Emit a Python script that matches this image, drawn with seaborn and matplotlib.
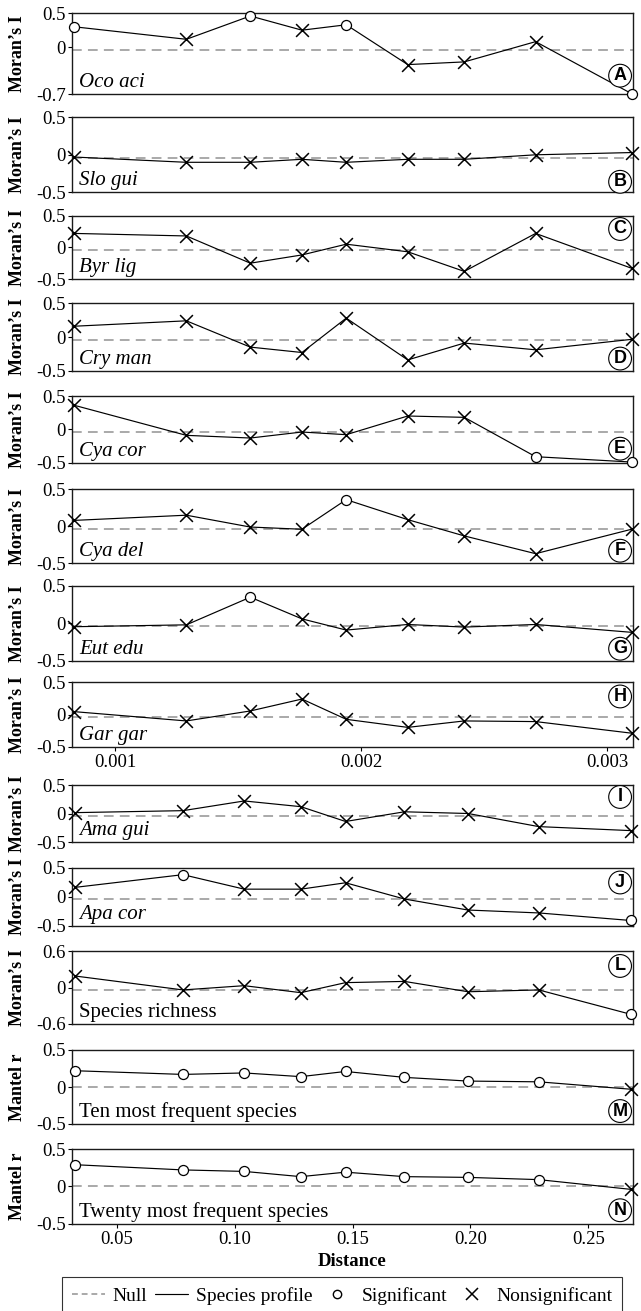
import numpy as np
import pandas as pd
import matplotlib
matplotlib.use("Agg")
import matplotlib.pyplot as plt
from matplotlib.lines import Line2D
import seaborn as sns

# ---------------- data ----------------
dist_deg = [0.000835, 0.00129, 0.00155, 0.00176, 0.00194, 0.00219, 0.00242, 0.00271, 0.00310]
dist_km = [0.032, 0.078, 0.104, 0.128, 0.147, 0.172, 0.199, 0.229, 0.268]

oco_aci = [0.30, 0.115, 0.46, 0.25, 0.33, -0.26, -0.22, 0.08, -0.69]
oco_aci_sig = "SNSNSNNNS"
slo_gui = [-0.03, -0.10, -0.10, -0.06, -0.10, -0.06, -0.06, 0.0, 0.03]
slo_gui_sig = "NNNNNNNNN"
byr_lig = [0.22, 0.18, -0.25, -0.12, 0.05, -0.07, -0.38, 0.22, -0.33]
byr_lig_sig = "NNNNNNNNN"
cry_man = [0.16, 0.24, -0.15, -0.23, 0.28, -0.34, -0.09, -0.19, -0.035]
cry_man_sig = "NNNNNNNNN"
cya_cor = [0.36, -0.09, -0.13, -0.04, -0.08, 0.20, 0.18, -0.41, -0.49]
cya_cor_sig = "NNNNNNNSS"
cya_del = [0.08, 0.15, -0.01, -0.04, 0.36, 0.09, -0.13, -0.37, -0.04]
cya_del_sig = "NNNNSNNNN"
eut_edu = [-0.045, -0.02, 0.35, 0.06, -0.09, -0.015, -0.05, -0.015, -0.12]
eut_edu_sig = "NNSNNNNNN"
gar_gar = [0.044, -0.10, 0.055, 0.24, -0.075, -0.20, -0.10, -0.11, -0.29]
gar_gar_sig = "NNNNNNNNN"
ama_gui = [0.015, 0.05, 0.22, 0.12, -0.14, 0.03, 0.0, -0.23, -0.30]
ama_gui_sig = "NNNNNNNNN"
apa_cor = [0.16, 0.38, 0.13, 0.13, 0.24, -0.04, -0.23, -0.28, -0.41]
apa_cor_sig = "NSNNNNNNS"
richness = [0.19, -0.04, 0.03, -0.085, 0.08, 0.10, -0.07, -0.04, -0.44]
richness_sig = "NNNNNNNNS"
mantel_ten = [0.22, 0.17, 0.19, 0.14, 0.21, 0.13, 0.08, 0.07, -0.03]
mantel_ten_sig = "SSSSSSSSN"
mantel_twenty = [0.29, 0.22, 0.20, 0.13, 0.19, 0.13, 0.12, 0.09, -0.04]
mantel_twenty_sig = "SSSSSSSSN"

moran_null = -0.04
mantel_null = 0.0

top_ticks = [0.001, 0.002, 0.003]
top_ticklabels = ["0.001", "0.002", "0.003"]
bottom_ticks = [0.05, 0.10, 0.15, 0.20, 0.25]
bottom_ticklabels = ["0.05", "0.10", "0.15", "0.20", "0.25"]

# (name, letter, values, sig, ylim, yticks, ytick labels, ylabel, null, italic, group)
panels = [
    ("Oco aci", "A", oco_aci, oco_aci_sig, (-0.7, 0.5), [-0.7, 0, 0.5], ["-0.7", "0", "0.5"], "Moran\u2019s I", moran_null, True, "deg"),
    ("Slo gui", "B", slo_gui, slo_gui_sig, (-0.5, 0.5), [-0.5, 0, 0.5], ["-0.5", "0", "0.5"], "Moran\u2019s I", moran_null, True, "deg"),
    ("Byr lig", "C", byr_lig, byr_lig_sig, (-0.5, 0.5), [-0.5, 0, 0.5], ["-0.5", "0", "0.5"], "Moran\u2019s I", moran_null, True, "deg"),
    ("Cry man", "D", cry_man, cry_man_sig, (-0.5, 0.5), [-0.5, 0, 0.5], ["-0.5", "0", "0.5"], "Moran\u2019s I", moran_null, True, "deg"),
    ("Cya cor", "E", cya_cor, cya_cor_sig, (-0.5, 0.5), [-0.5, 0, 0.5], ["-0.5", "0", "0.5"], "Moran\u2019s I", moran_null, True, "deg"),
    ("Cya del", "F", cya_del, cya_del_sig, (-0.5, 0.5), [-0.5, 0, 0.5], ["-0.5", "0", "0.5"], "Moran\u2019s I", moran_null, True, "deg"),
    ("Eut edu", "G", eut_edu, eut_edu_sig, (-0.5, 0.5), [-0.5, 0, 0.5], ["-0.5", "0", "0.5"], "Moran\u2019s I", moran_null, True, "deg"),
    ("Gar gar", "H", gar_gar, gar_gar_sig, (-0.5, 0.5), [-0.5, 0, 0.5], ["-0.5", "0", "0.5"], "Moran\u2019s I", moran_null, True, "deg"),
    ("Ama gui", "I", ama_gui, ama_gui_sig, (-0.5, 0.5), [-0.5, 0, 0.5], ["-0.5", "0", "0.5"], "Moran\u2019s I", moran_null, True, "km"),
    ("Apa cor", "J", apa_cor, apa_cor_sig, (-0.5, 0.5), [-0.5, 0, 0.5], ["-0.5", "0", "0.5"], "Moran\u2019s I", moran_null, True, "km"),
    ("Species richness", "L", richness, richness_sig, (-0.6, 0.6), [-0.6, 0, 0.6], ["-0.6", "0", "0.6"], "Moran\u2019s I", moran_null, False, "km"),
    ("Ten most frequent species", "M", mantel_ten, mantel_ten_sig, (-0.5, 0.5), [-0.5, 0, 0.5], ["-0.5", "0", "0.5"], "Mantel r", mantel_null, False, "km"),
    ("Twenty most frequent species", "N", mantel_twenty, mantel_twenty_sig, (-0.5, 0.5), [-0.5, 0, 0.5], ["-0.5", "0", "0.5"], "Mantel r", mantel_null, False, "km"),
]

# ---------------- layout (pixels) ----------------
W, H = 641, 1311
left_px, right_px = 72, 633
bounds = [(13.3, 94.3), (117.3, 192.3), (215.7, 279.0), (303.3, 370.7), (396.0, 462.7),
          (489.3, 563.3), (586.0, 660.7), (682.3, 746.7), (785.0, 842.0), (867.7, 925.7),
          (951.0, 1024.0), (1050.0, 1124.0), (1149.0, 1223.7)]
letter_y = [0.23, 0.14, 0.79, 0.18, 0.21, 0.17, 0.16, 0.78, 0.79, 0.745, 0.795, 0.175, 0.18]
xlim_deg = (0.000825, 0.003106)
xlim_km = (0.0309, 0.2690)

sns.set_theme(style="white")
plt.rcParams["font.family"] = ["Liberation Serif", "DejaVu Serif"]
plt.rcParams["axes.unicode_minus"] = False
plt.rcParams["text.color"] = "black"
plt.rcParams["axes.labelcolor"] = "black"
plt.rcParams["xtick.color"] = "black"
plt.rcParams["ytick.color"] = "black"

fig = plt.figure(figsize=(W / 100, H / 100), dpi=100)
fig.patch.set_facecolor("white")

null_color = "#a9a9a9"
tick_fs = 13.5

for i, (name, letter, vals, sig, ylim, yt, ytl, ylab, null, italic, grp) in enumerate(panels):
    top, bot = bounds[i]
    rect = [left_px / W, 1 - bot / H, (right_px - left_px) / W, (bot - top) / H]
    ax = fig.add_axes(rect)
    x = dist_deg if grp == "deg" else dist_km
    df = pd.DataFrame({"dist": x, "val": vals, "sig": list(sig)})

    ax.axhline(null, color=null_color, lw=1.4, ls=(0, (5, 3.2)), zorder=1)
    sns.lineplot(data=df, x="dist", y="val", color="black", lw=0.85, ax=ax,
                 sort=False, estimator=None, zorder=2)
    s_df = df[df["sig"] == "S"]
    n_df = df[df["sig"] == "N"]
    if len(s_df):
        sns.scatterplot(data=s_df, x="dist", y="val", marker="o", s=52, facecolor="white",
                        edgecolor="black", linewidth=0.9, ax=ax, zorder=4, clip_on=False)
    if len(n_df):
        sns.scatterplot(data=n_df, x="dist", y="val", marker="x", s=85, color="black",
                        linewidth=1.1, ax=ax, zorder=4, clip_on=False)

    ax.set_xlim(xlim_deg if grp == "deg" else xlim_km)
    ax.set_ylim(*ylim)
    ax.set_yticks(yt)
    ax.set_yticklabels(ytl, fontsize=tick_fs)
    ax.set_xlabel("")
    ax.set_ylabel("")
    for sp in ax.spines.values():
        sp.set_visible(True)
        sp.set_color("#1a1a1a")
        sp.set_linewidth(1.0)
    ax.tick_params(axis="y", left=True, length=3, width=0.8, pad=1.5, colors="black")
    if letter == "H":
        ax.set_xticks(top_ticks)
        ax.set_xticklabels(top_ticklabels, fontsize=tick_fs)
        ax.tick_params(axis="x", bottom=True, length=3, width=0.8, pad=2)
    elif letter == "N":
        ax.set_xticks(bottom_ticks)
        ax.set_xticklabels(bottom_ticklabels, fontsize=tick_fs)
        ax.tick_params(axis="x", bottom=True, length=3, width=0.8, pad=2)
        ax.set_xlabel("Distance", fontsize=13.5, fontweight="bold", labelpad=4, color="black")
    else:
        ax.set_xticks([])

    ax.annotate(name, xy=(0, 0), xycoords="axes fraction", xytext=(5, 5),
                textcoords="offset points", ha="left", va="baseline", fontsize=15,
                style="italic" if italic else "normal", zorder=5)
    ax.text(0.977, letter_y[i], letter, transform=ax.transAxes, ha="center", va="center",
            fontsize=13, fontweight="bold", family="Liberation Sans", zorder=6,
            bbox=dict(boxstyle="circle,pad=0.16", fc="white", ec="black", lw=0.8))

    fig.text(17 / W, 1 - (top + bot) / 2 / H, ylab, rotation=90, ha="center", va="center",
             fontsize=13, fontweight="bold")

handles = [
    Line2D([], [], color=null_color, lw=1.4, ls=(0, (3, 2))),
    Line2D([], [], color="black", lw=0.85),
    Line2D([], [], color="black", marker="o", mfc="white", mec="black", ms=6, ls="none"),
    Line2D([], [], color="black", marker="x", ms=8, mew=1.1, ls="none"),
]
labels = ["Null", "Species profile", "Significant", "Nonsignificant"]
leg = fig.legend(handles, labels, loc="upper left", ncol=4, mode="expand",
                 bbox_to_anchor=(62 / W, 1 - 1277 / H, 560 / W, 0.0), fontsize=14,
                 frameon=True, fancybox=False, edgecolor="black", handlelength=1.7,
                 handletextpad=0.4, columnspacing=0.4, borderpad=0.5, borderaxespad=0)
leg.get_frame().set_linewidth(0.8)

fig.savefig("out.png", dpi=100, facecolor="white")
